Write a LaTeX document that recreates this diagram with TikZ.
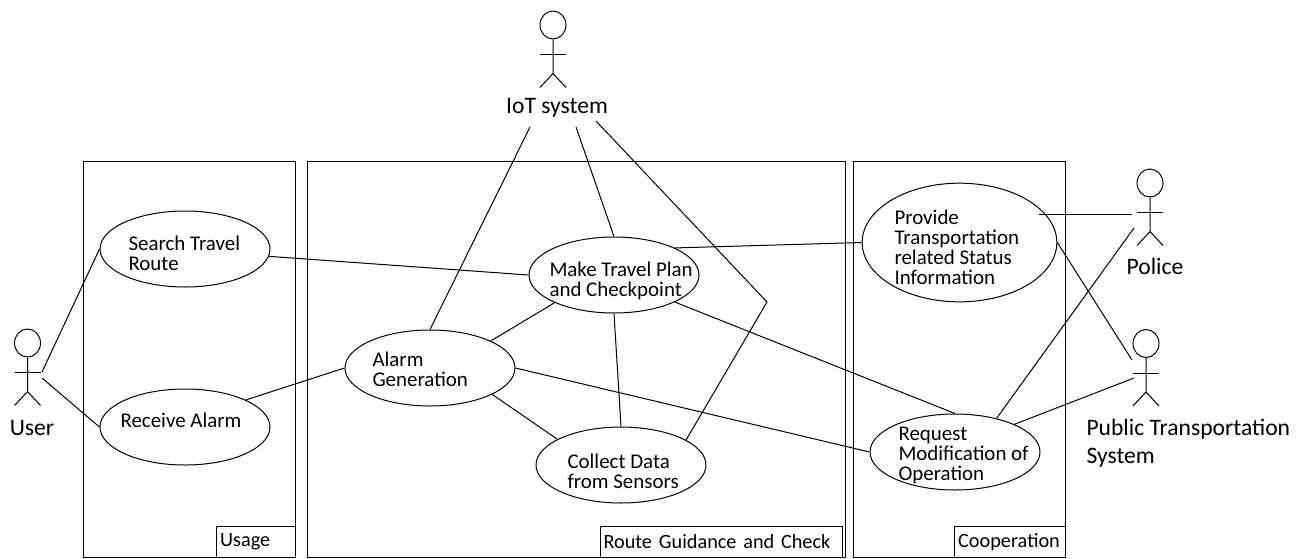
\documentclass[tikz,border=0pt]{standalone}
\usepackage{fontspec}
\setmainfont{Carlito}
\usepackage{tikz}
\usetikzlibrary{positioning}
\usetikzlibrary{shapes.geometric}
\tikzstyle{usecase}=[draw, ellipse, minimum width=127.5pt, minimum height=57pt, inner sep=0pt]
\tikzstyle{uctext}=[anchor=west, align=left, inner sep=0pt, font=\fontsize{15.7}{15}\selectfont]
\tikzstyle{group}=[draw, rectangle, minimum height=297pt, inner sep=0pt, anchor=north west]
\tikzstyle{grouptag}=[draw, rectangle, minimum height=23.25pt, inner xsep=2.5pt, inner ysep=0pt, align=left, font=\fontsize{15.2}{15}\selectfont]
\tikzstyle{head}=[draw, ellipse, minimum width=19.5pt, minimum height=21pt, inner sep=0pt]
\tikzstyle{actorname}=[align=left, inner sep=0pt, font=\fontsize{17.7}{21}\selectfont]
\newcommand{\actor}[3]{
	\node (#1) [head] at (#2,#3) {};
	\draw (#1.south) -- ++(0,34) coordinate (#1hip) -- ++(-13,14);
	\draw (#1hip) -- ++(13,14);
	\draw (#1.south) ++(-13,15) -- ++(26,0);
}

\begin{document}
\begin{tikzpicture}[x=0.75pt, y=-0.75pt, line width=0.75pt]
	\useasboundingbox (0,0) rectangle (1304,558);

	\node (usage) [group, minimum width=159pt] at (83,161) {};
	\node (route) [group, minimum width=403.5pt] at (307,161) {};
	\node (coop) [group, minimum width=159pt] at (853,161) {};
	\node (usagetag) [grouptag, text width=54pt, above left=0pt of usage.south east] {Usage};
	\node (routetag) [grouptag, text width=177pt, above left=0pt and 2pt of route.south east] {Route Guidance and Check};
	\node (cooptag) [grouptag, text width=78pt, above left=0pt of coop.south east] {Cooperation};

	\actor{user}{27.5}{343}
	\actor{iot}{553}{25}
	\actor{police}{1150}{183}
	\actor{pts}{1146}{343.5}

	\node (userlabel) [actorname] at (32,428) {User};
	\node (iotlabel) [actorname] at (557,108) {IoT system};
	\node (policelabel) [actorname] at (1155,266) {Police};
	\node (ptslabel) [actorname, anchor=north west] at (1086,419) {Public Transportation\\System};

	\node (search) [usecase] at (185,249) {};
	\node (receive) [usecase] at (185,427) {};
	\node (alarm) [usecase] at (430,368) {};
	\node (plan) [usecase] at (614,275) {};
	\node (collect) [usecase] at (621,465) {};
	\node (provide) [usecase, minimum width=146pt, minimum height=89pt] at (959.5,242.5) {};
	\node (request) [usecase] at (955,452) {};

	\node (searchtext) [uctext] at (128,253) {Search Travel\\Route};
	\node (receivetext) [uctext] at (120,420) {Receive Alarm};
	\node (alarmtext) [uctext] at (372,369) {Alarm\\Generation};
	\node (plantext) [uctext] at (549,281) {Make Travel Plan\\and Checkpoint};
	\node (collecttext) [uctext] at (567,471) {Collect Data\\from Sensors};
	\node (providetext) [uctext] at (894,247) {Provide\\Transportation\\related Status\\Information};
	\node (requesttext) [uctext] at (898,455) {Request\\Modification of\\Operation};

	\coordinate (usersearch) at (42,372);
	\coordinate (userreceive) at (42,378);
	\coordinate (iotalarm) at (530,127);
	\coordinate (iotplan) at (576,127);
	\coordinate (iotcollect) at (596,121);
	\coordinate (iotbend) at (767,302);
	\coordinate (policeprovide) at (1132,214);
	\coordinate (providein) at (1039,214);
	\coordinate (policerequest) at (1134,228);
	\coordinate (ptsprovide) at (1132,360);
	\coordinate (ptsrequest) at (1134,378);

	\draw (usersearch) to (search.west);
	\draw (userreceive) to (receive.west);
	\draw (search.-5) to (plan.west);
	\draw (receive.24) to (alarm.west);
	\draw (iotalarm) to (alarm.north);
	\draw (iotplan) to (plan.north);
	\draw (iotcollect) -- (iotbend) -- (collect.21);
	\draw (alarm.24) to (plan.205);
	\draw (alarm.-23) to (collect.158);
	\draw (plan.south) to (collect.north);
	\draw (alarm.east) to (request.west);
	\draw (plan.336) to (request.north);
	\draw (plan.24) to (provide.west);
	\draw (providein) to (policeprovide);
	\draw (provide.east) to (ptsprovide);
	\draw (policerequest) to (request.39);
	\draw (ptsrequest) to (request.25);
\end{tikzpicture}
\end{document}
